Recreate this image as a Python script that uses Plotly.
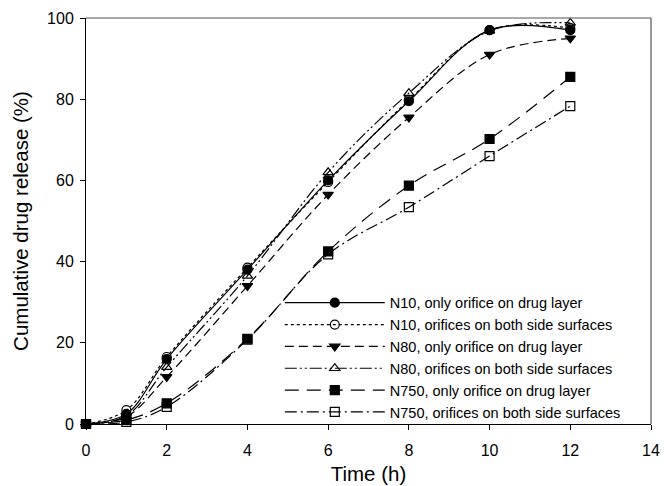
import plotly.graph_objects as go

time = [0, 1, 2, 4, 6, 8, 10, 12]
n10_only = [0, 2.5, 16.0, 38.0, 60.0, 79.5, 97.0, 97.0]
n10_both = [0, 3.4, 16.5, 38.5, 59.6, 79.8, 97.0, 97.5]
n80_only = [0, 1.8, 11.6, 34.0, 56.5, 75.5, 91.0, 95.0]
n80_both = [0, 2.0, 14.0, 36.5, 62.0, 81.5, 96.8, 98.8]
n750_only = [0, 1.0, 5.1, 21.0, 42.5, 58.7, 70.2, 85.5]
n750_both = [0, 0.5, 4.2, 20.8, 41.8, 53.4, 66.0, 78.3]

names = [
    "N10, only orifice on drug layer",
    "N10, orifices on both side surfaces",
    "N80, only orifice on drug layer",
    "N80, orifices on both side surfaces",
    "N750, only orifice on drug layer",
    "N750, orifices on both side surfaces",
]
series = [n10_only, n10_both, n80_only, n80_both, n750_only, n750_both]
dashes = ["solid", "dot", "9px,5px", "12px,3px,2px,3px,2px,3px", "14px,8px", "12px,4px,2px,4px"]
symbols = ["circle", "circle-open", "triangle-down", "triangle-up-open", "square", "square-open"]

FONT = "Liberation Sans, Arial"

fig = go.Figure()
for nm, ys, d, s in zip(names, series, dashes, symbols):
    fig.add_trace(go.Scatter(
        x=time, y=ys, name=nm, mode="lines+markers",
        line=dict(color="black", width=1.2, dash=d, shape="spline", smoothing=1.0),
        marker=dict(symbol=s, size=9, color="black",
                    line=dict(color="black", width=1.2)),
        cliponaxis=False,
    ))

axis_common = dict(
    showgrid=False, zeroline=False, showline=True, linecolor="black", linewidth=1,
    ticks="outside", ticklen=5, tickcolor="black", automargin=False,
    tickfont=dict(family=FONT, size=16, color="black"),
    mirror=False,
)
fig.update_xaxes(range=[0, 14], dtick=2, ticklabelstandoff=7,
                 title=dict(text="Time (h)", font=dict(size=20.5, family=FONT, color="black"), standoff=8),
                 **axis_common)
fig.update_yaxes(range=[0, 100], dtick=20, ticklabelstandoff=3,
                 title=dict(text="Cumulative drug release (%)", font=dict(size=20.5, family=FONT, color="black"), standoff=12),
                 **axis_common)

# top and right frame lines
fig.add_shape(type="line", xref="paper", yref="paper", x0=0, x1=1, y0=1, y1=1, line=dict(color="#555", width=1.2))
fig.add_shape(type="line", xref="paper", yref="paper", x0=1, x1=1, y0=0, y1=1, line=dict(color="#555", width=1.2))

fig.update_layout(
    width=664, height=486,
    margin=dict(l=86, r=13, t=18, b=62),
    plot_bgcolor="white", paper_bgcolor="white",
    font=dict(family=FONT, color="black"),
    legend=dict(x=0.343, y=0.338, xanchor="left", yanchor="top",
                bgcolor="rgba(0,0,0,0)", borderwidth=0,
                font=dict(size=14.5, family=FONT, color="black"),
                itemwidth=100, tracegroupgap=0, itemsizing="trace"),
    showlegend=True,
)
fig.write_html("out.html")
